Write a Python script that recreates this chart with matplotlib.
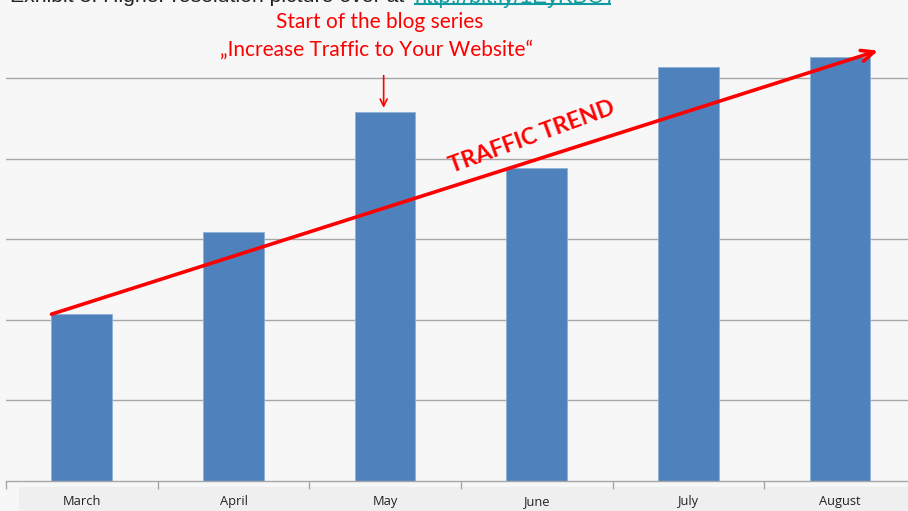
import matplotlib
matplotlib.use("Agg")
import matplotlib.pyplot as plt
from matplotlib.patches import Rectangle
from matplotlib.lines import Line2D

months = ["March", "April", "May", "June", "July", "August"]
traffic = [2.07, 3.09, 4.58, 3.88, 5.14, 5.26]
grid_levels = [1, 2, 3, 4, 5]

BG = "#f7f7f7"
BAR = "#4f81bd"
RED = "#ff0000"
W, H = 908, 511

fig = plt.figure(figsize=(W / 100, H / 100), dpi=100, facecolor=BG)

# category label band (behind everything)
fig.patches.append(Rectangle((19 / W, 0), 1, 24 / H, transform=fig.transFigure,
                             facecolor="#efefef", edgecolor="none", zorder=-1))

# axes spans beyond the right edge like the cropped original
ax = fig.add_axes([6 / W, 30 / H, 910 / W, 481 / H])
ax.set_facecolor(BG)
ax.set_xlim(-0.5, len(months) - 0.5)
ax.set_ylim(0, 5.968)
for s in ["top", "right", "left"]:
    ax.spines[s].set_visible(False)
ax.spines["bottom"].set_color("#a6a6a6")
ax.spines["bottom"].set_linewidth(1)
ax.set_yticks([])
for g in grid_levels:
    ax.axhline(g, color="#a6a6a6", lw=1, zorder=0)

x = list(range(len(months)))
ax.bar(x, traffic, width=0.4, color=BAR, edgecolor="#8fb0d8", linewidth=0.6, zorder=2)

ax.set_xticks([i - 0.5 for i in range(len(months) + 1)])
ax.set_xticklabels([])
ax.tick_params(axis="x", length=6, color="#a6a6a6", width=1)

for i, m in enumerate(months):
    ax.text(i, -0.25, m, ha="center", va="center", fontsize=9.3,
            family="Open Sans", color="#222222", clip_on=False, zorder=10)

# trend arrow
start = (-0.2, traffic[0])
end = (len(months) - 1 + 0.25, traffic[-1] + 0.08)
ax.annotate("", xy=end, xytext=start,
            arrowprops=dict(arrowstyle="->,head_length=0.9,head_width=0.4",
                            color=RED, lw=2.6, shrinkA=0, shrinkB=0), zorder=5)
ax.text(2.97, 4.27, "TRAFFIC TREND", rotation=20, ha="center", va="center",
        fontsize=16.5, fontweight="bold", family="Lato", color=RED,
        rotation_mode="anchor", zorder=6)

# blog series annotation
fig.text(380 / W, 1 - 22 / H, "Start of the blog series", ha="center", va="center",
         fontsize=15, family="Lato", color=RED)
fig.text(377 / W, 1 - 50 / H, "\u201eIncrease Traffic to Your Website\u201c", ha="center",
         va="center", fontsize=15, family="Lato", color=RED)
ax.annotate("", xy=(2 - 0.01, traffic[2] + 0.05), xytext=(2 - 0.01, traffic[2] + 0.45),
            arrowprops=dict(arrowstyle="->,head_length=0.5,head_width=0.25",
                            color=RED, lw=1.2, shrinkA=0, shrinkB=0))

# cropped header line
fig.text(10 / W, 1 - 2.5 / H, "Exhibit 3: Higher resolution picture over at",
         ha="left", va="baseline", fontsize=15.3, family="Liberation Sans", color="#222222")
fig.text(415 / W, 1 - 2.5 / H, "http://bit.ly/1EyKBO7", ha="left", va="baseline",
         fontsize=15.8, family="Liberation Sans", color="#0e9ba0")
fig.lines.append(Line2D([415 / W, 610 / W], [1 - 4.5 / H, 1 - 4.5 / H],
                        transform=fig.transFigure, color="#0e9ba0", lw=1.5))

fig.savefig("out.png", dpi=100, facecolor=BG)
